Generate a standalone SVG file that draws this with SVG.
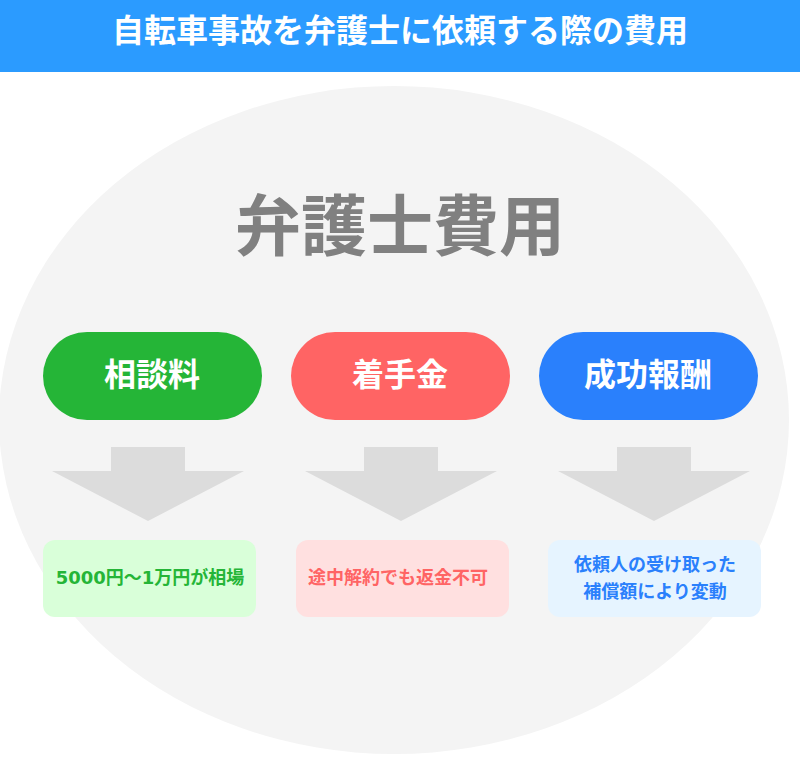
<svg xmlns="http://www.w3.org/2000/svg" width="800" height="779" viewBox="0 0 800 779">
<style>
text{font-family:"DejaVu Sans","Noto Sans CJK JP",sans-serif;font-weight:700;text-anchor:middle}
.p{fill:#fff;font-size:32px}
.s{font-size:18px}
.a{fill:#dcdcdc}
</style>
<rect width="800" height="779" fill="#fff"/>
<ellipse cx="394" cy="420" rx="395" ry="334" fill="#f4f4f4"/>
<g id="header"><rect width="800" height="72" fill="#2b9bff"/><text x="400" y="42" fill="#fff" font-size="32">自転車事故を弁護士に依頼する際の費用</text></g>
<text x="400" y="250" fill="#808080" font-size="66">弁護士費用</text>
<g id="n1"><rect x="43" y="332" width="219" height="88" rx="44" fill="#25b537"/><text class="p" x="152" y="386">相談料</text></g>
<g id="n2"><rect x="291" y="332" width="219" height="88" rx="44" fill="#ff6464"/><text class="p" x="400" y="386">着手金</text></g>
<g id="n3"><rect x="539" y="332" width="219" height="88" rx="44" fill="#2a80fc"/><text class="p" x="648" y="386">成功報酬</text></g>
<g id="connectors">
<polygon class="a" points="111,447 185,447 185,471 244,471 148,521 52,471 111,471"/>
<polygon class="a" points="364,447 438,447 438,471 497,471 401,521 305,471 364,471"/>
<polygon class="a" points="617,447 691,447 691,471 750,471 654,521 558,471 617,471"/>
</g>
<g id="b1"><rect x="43" y="540" width="213" height="77" rx="12" fill="#d9ffd9"/><text class="s" x="150" y="584" fill="#25b537">5000円～1万円が相場</text></g>
<g id="b2"><rect x="296" y="540" width="213" height="77" rx="12" fill="#ffe0e0"/><text class="s" x="398" y="584" fill="#ff6464">途中解約でも返金不可</text></g>
<g id="b3"><rect x="548" y="540" width="213" height="77" rx="12" fill="#e6f4ff"/><text class="s" x="655" y="571" fill="#2a80fc">依頼人の受け取った</text><text class="s" x="655" y="598" fill="#2a80fc">補償額により変動</text></g>
</svg>
